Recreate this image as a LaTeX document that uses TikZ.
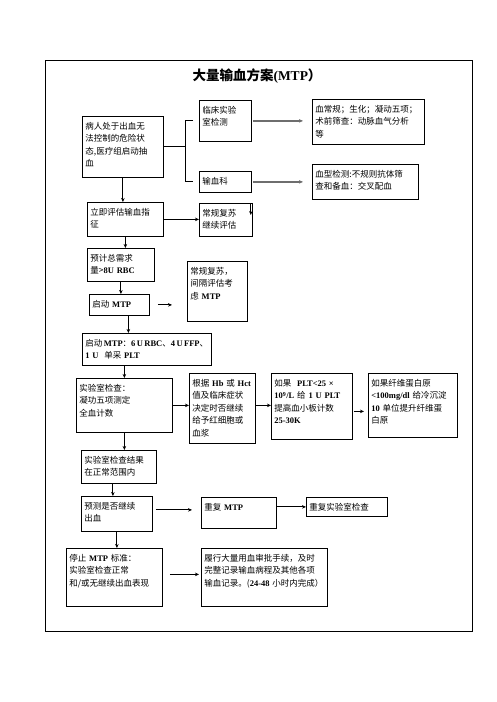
\documentclass[tikz,border=0pt]{standalone}
\usepackage{fontspec}
\setmainfont{Liberation Serif}
\newfontfamily\cjk{Noto Sans CJK SC}
\newcommand{\tnr}[1]{{\rmfamily\bfseries #1}}
\definecolor{arrowgray}{RGB}{110,110,110}
\usepackage{tikz}
\usetikzlibrary{arrows.meta}

\begin{document}
\begin{tikzpicture}[x=1pt, y=-1pt,
  cell/.style 2 args={draw, line width=0.8pt, anchor=north west, align=left,
    inner xsep=3pt, inner ysep=5pt, text width=#1, text height=8pt, text depth=#2,
    font=\cjk\fontsize{8.5}{12.5}\selectfont},
  arw/.style={-{Stealth[length=4pt, width=3.5pt]}, line width=0.9pt},
  grayarw/.style={arw, line width=1.6pt, arrowgray},
]
\useasboundingbox (0,0) rectangle (496,702);
\draw[line width=0.9pt] (45,60) rectangle (472,631);

\node[font=\cjk\bfseries\fontsize{13.5}{15}\selectfont] (title) at (257,76) {大量输血方案\tnr{(MTP}）};

% first column
\node[cell={75pt}{43pt}] (patient) at (82,116) {病人处于出血无\\法控制的危险状\\态,医疗组启动抽\\血};
\node[cell={70pt}{16pt}] (assess) at (87,202) {立即评估输血指\\征};
\node[cell={61pt}{15pt}] (estimate) at (87,248) {预计总需求\\量>\tnr{8U RBC}};
\node[cell={54pt}{3pt}] (startmtp) at (89,294) {启动 \tnr{MTP}};
\node[cell={123pt}{14pt}] (protocol) at (82,333) {\mbox{启动\,\tnr{MTP}：\tnr{6\,U\,RBC}、\tnr{4\,U\,FFP}、}\\\tnr{1 U} \ 单采 \tnr{PLT}};
\node[cell={90pt}{36pt}] (labcheck) at (76,378) {实验室检查：\\凝功五项测定\\全血计数};
\node[cell={69pt}{15pt}] (normal) at (81,450) {实验室检查结果\\在正常范围内};
\node[cell={65pt}{17pt}] (predict) at (81,496) {预测是否继续\\出血};
\node[cell={90pt}{40pt}] (stop) at (66,548) {停止 \tnr{MTP} 标准：\\实验室检查正常\\和/或无继续出血表现};

% second column
\node[cell={46pt}{23pt}] (labtest) at (199,100) {临床实验\\室检测};
\node[cell={46pt}{3pt}] (bloodbank) at (199,171) {输血科};
\node[cell={47pt}{15pt}] (routine) at (199,203) {常规复苏\\继续评估};
\node[cell={54pt}{42pt}] (consider) at (187,261) {常规复苏，\\间隔评估考\\虑 \tnr{MTP}};
\node[cell={60pt}{52pt}] (decide) at (189,373) {根据 \tnr{Hb} 或 \tnr{Hct}\\值及临床症状\\决定时否继续\\给予红细胞或\\血浆};
\node[cell={69pt}{13pt}] (repeat) at (201,497) {重复 \tnr{MTP}};
\node[cell={120pt}{40pt}] (record) at (201,548) {履行大量用血审批手续，及时\\完整记录输血病程及其他各项\\输血记录。(\tnr{24-48} 小时内完成）};

% right columns
\node[cell={106pt}{27pt}] (labitems) at (312,99) {血常规；生化；凝动五项；\\术前筛查：动脉血气分析\\等};
\node[cell={100pt}{17pt}] (typing) at (312,164) {血型检测:不规则抗体筛\\查和备血：交叉配血};
\node[cell={75pt}{48pt}] (plt) at (271,373) {如果 \ \tnr{PLT<25 ×}\\\tnr{10\textsuperscript{9}/L} 给 \tnr{1 U PLT}\\提高血小板计数\\\tnr{25-30K}};
\node[cell={83pt}{46pt}] (fib) at (368,373) {如果纤维蛋白原\\\tnr{<100mg/dl} 给冷沉淀\\\tnr{10} 单位提升纤维蛋\\白原};
\node[cell={75pt}{1pt}] (relab) at (306,497) {重复实验室检查};

% bracket
\coordinate (brk) at ([xshift=-14pt]labtest.west);
\draw[line width=0.9pt] (patient.east) -- (patient.east -| brk);
\draw[line width=0.9pt] ([xshift=-6pt]labtest.west) -- (brk) |- ([xshift=-6pt]bloodbank.west);

\draw[grayarw, shorten <=1pt, shorten >=9pt] (labtest.east) -- (labtest.east -| labitems.west);
\draw[grayarw, shorten <=1pt, shorten >=9pt] (bloodbank.east) -- (bloodbank.east -| typing.west);

\draw[arw] (patient.south) -- (patient.south |- assess.north);
\draw[arw] (assess.east) -- (assess.east -| routine.west);
\draw[arw] ([xshift=-2pt]routine.north east) -- ++(0,12);
\draw[arw] (assess.south) -- (assess.south |- estimate.north);
\draw[arw] (estimate.south) -- (estimate.south |- startmtp.north);
\draw[arw, shorten <=8pt, shorten >=15pt] (startmtp.east) -- (startmtp.east -| consider.west);
\draw[arw] ([xshift=9pt]startmtp.south) -- ([xshift=9pt]startmtp.south |- protocol.north);
\draw[arw] (labcheck.north |- protocol.south) -- (labcheck.north);

% lab results
\draw[arw] (labcheck.east) -- (labcheck.east -| decide.west);
\draw[arw] (labcheck.east -| decide.east) -- (labcheck.east -| plt.west);
\draw[arw, shorten <=1pt, shorten >=4pt] ([yshift=-5pt]plt.east) -- ([yshift=-5pt]plt.east -| fib.west);
\draw[arw] (labcheck.south) -- (labcheck.south |- normal.north);
\draw[arw] ([xshift=-6pt]normal.south) -- ([xshift=-6pt]normal.south |- predict.north);

% continue or stop
\draw[arw, shorten <=3pt, shorten >=9pt] ([yshift=4pt]predict.east) -- ([yshift=4pt]predict.east -| repeat.west);
\draw[arw] (relab.west -| repeat.east) -- (relab.west);
\draw[arw] (predict.south) -- (predict.south |- stop.north);
\draw[arw, shorten <=7pt, shorten >=2pt] ([yshift=3pt]stop.east) -- ([yshift=3pt]stop.east -| record.west);
\end{tikzpicture}
\end{document}
